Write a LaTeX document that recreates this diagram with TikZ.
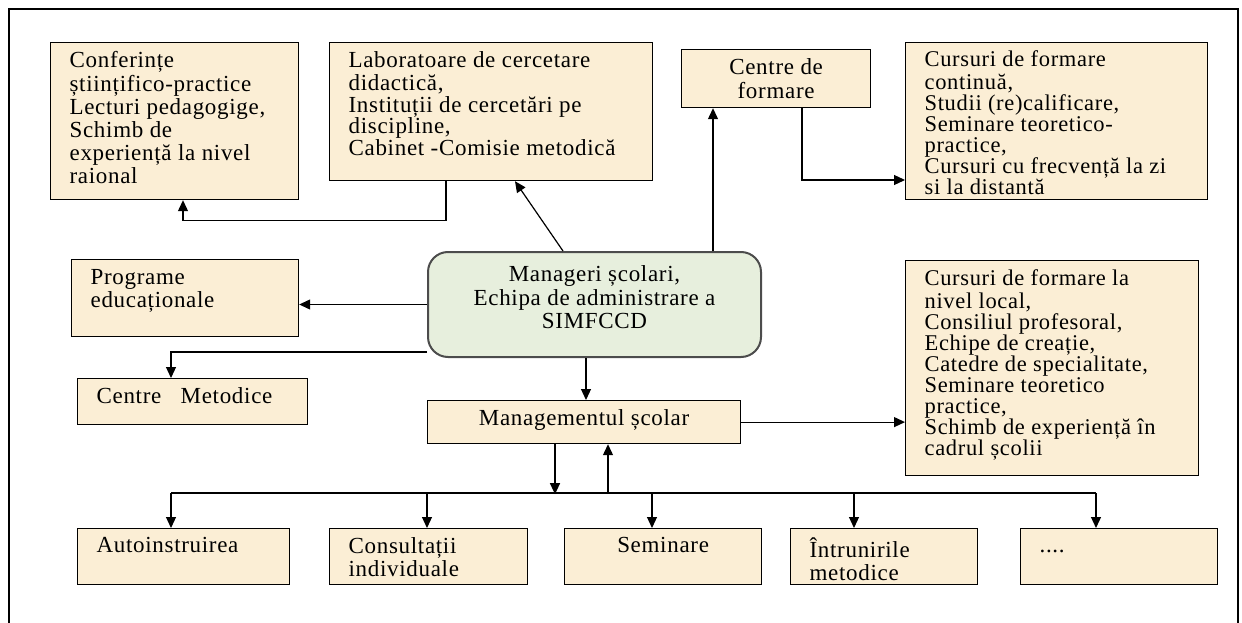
\documentclass[tikz,border=0pt]{standalone}
\usepackage{fontspec}
\setmainfont{Liberation Serif}[LetterSpace=3]
\usetikzlibrary{arrows.meta}
\definecolor{paper}{RGB}{251,238,213}
\definecolor{sage}{RGB}{231,239,221}
\newcommand{\boxtxt}[4][\raggedright\leftskip=19pt]{\parbox[c][#3][t]{#2}{\vspace*{9pt}#1\strut#4}}

\begin{document}
\begin{tikzpicture}[x=1pt, y=-1pt, font=\fontsize{23}{21.5}\selectfont,
        bx/.style={draw, line width=1.2pt, fill=paper, inner sep=0pt, anchor=north west},
        tight/.style={font=\fontsize{22.5}{21}\selectfont},
        loose/.style={font=\fontsize{23}{23}\selectfont},
        arr/.style={line width=1.2pt, -{Triangle[length=11pt,width=10pt]}}]
        \useasboundingbox (0,0) rectangle (1242,623);
        \draw[line width=1.5pt] (9,623) -- (9,9) -- (1238,9) -- (1238,623);

        \node[bx, loose] (conf) at (50,42) {\boxtxt{248pt}{157pt}{Conferințe\\științifico-practice\\Lecturi pedagogige,\\Schimb de\\experiență la nivel\\raional}};
        \node[bx] (lab) at (329,42) {\boxtxt{323pt}{138pt}{Laboratoare de cercetare\\didactică,\\Instituții de cercetări pe\\discipline,\\Cabinet -Comisie metodică}};
        \node[bx] (cform) at (681,49) {\boxtxt[\centering]{189pt}{58pt}{Centre de\\formare}};
        \node[bx, tight] (ccont) at (905,42) {\boxtxt[\vspace*{-1pt}\raggedright\leftskip=19pt]{302pt}{157pt}{Cursuri de formare\\continuă,\\Studii (re)calificare,\\Seminare teoretico-\\practice,\\Cursuri cu frecvență la zi\\si la distantă}};

        \node[bx, font=\fontsize{23}{22}\selectfont] (prog) at (71,259) {\boxtxt{227pt}{77pt}{Programe\\educaționale}};
        \node[bx, fill=sage, draw=black!70, line width=2pt, rounded corners=20pt, font=\fontsize{23}{22.5}\selectfont] (mgr) at (427,251)
            {\boxtxt[\vspace*{5pt}\centering]{333pt}{105pt}{Manageri școlari,\\Echipa de administrare a\\SIMFCCD}};
        \node[bx] (cmet) at (77,378) {\boxtxt{230pt}{46pt}{Centre~~~Metodice}};
        \node[bx] (msc) at (427,400) {\boxtxt[\centering]{313pt}{43pt}{Managementul școlar}};
        \node[bx, tight] (cloc) at (905,260) {\boxtxt{293pt}{215pt}{Cursuri de formare la\\nivel local,\\Consiliul profesoral,\\Echipe de creație,\\Catedre de specialitate,\\Seminare teoretico\\practice,\\Schimb de experiență în\\cadrul școlii}};

        \node[bx] (auto) at (77,528) {\boxtxt{212pt}{56pt}{Autoinstruirea}};
        \node[bx, loose] (cons) at (329,528) {\boxtxt{198pt}{56pt}{Consultații\\individuale}};
        \node[bx] (sem) at (564,528) {\boxtxt[\centering]{197pt}{56pt}{Seminare}};
        \node[bx, loose] (intr) at (790,528) {\boxtxt{187pt}{56pt}{Întrunirile\\metodice}};
        \node[bx] (dots) at (1020,528) {\boxtxt{197pt}{56pt}{....}};

        \draw[arr] ([xshift=117pt]lab.south west) -- ++(0,39) -| ([xshift=133pt]conf.south west);
        \draw[arr] ([xshift=136pt]mgr.north west) -- ([xshift=186pt]lab.south west);
        \draw[arr] ([xshift=286pt]mgr.north west) -- ([xshift=32pt]cform.south west);
        \draw[arr] ([xshift=121pt]cform.south west) |- ([yshift=-138pt]ccont.north west);
        \draw[arr] (mgr.west) -- (mgr.west -| prog.east);
        \draw[arr] ([yshift=6pt]mgr.south west) -| ([xshift=94pt]cmet.north west);
        \draw[arr] ([xshift=159pt]mgr.south west) -- ([xshift=159pt]msc.north west);
        \draw[arr] (msc.east) -- (msc.east -| cloc.west);

        \coordinate (busL) at ([xshift=94pt,yshift=35pt]auto.north west);
        \coordinate (busR) at ([xshift=76pt,yshift=35pt]dots.north west);
        \draw[line width=1.2pt] (busL) -- (busR);
        \foreach \b/\dx in {auto/94,cons/98,sem/88,intr/64,dots/76}
            \draw[arr] ([xshift=\dx pt]\b.north west) ++(0,-35) -- ([xshift=\dx pt]\b.north west);
        \draw[arr] ([xshift=128pt]msc.south west) -- ++(0,50);
        \draw[arr] ([xshift=181pt]msc.south west) ++(0,50) -- ([xshift=181pt]msc.south west);
\end{tikzpicture}
\end{document}
